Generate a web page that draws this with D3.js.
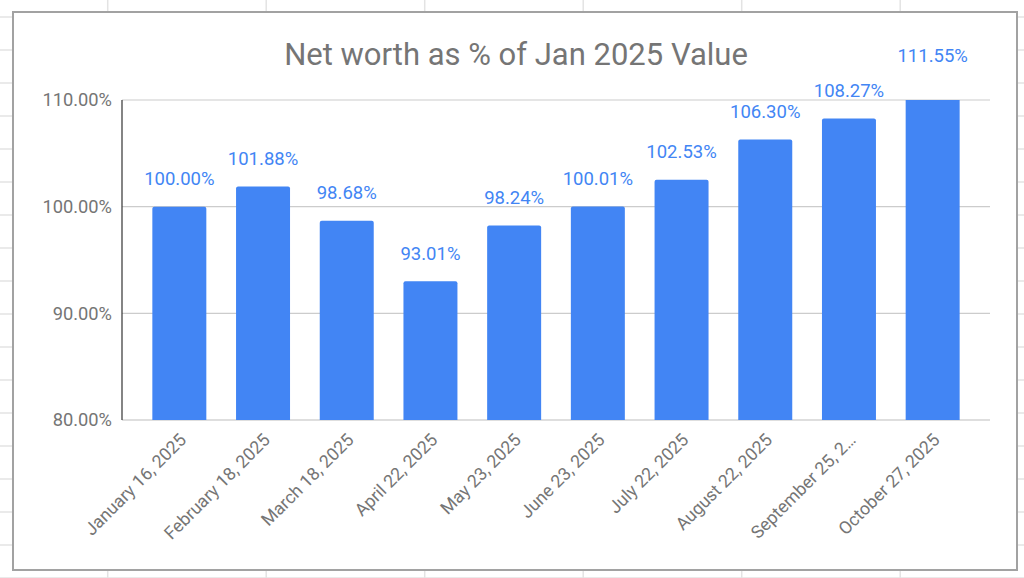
<!DOCTYPE html>
<html>
<head>
<meta charset="utf-8">
<script src="https://cdn.jsdelivr.net/npm/d3@7"></script>
<style>
  html, body { margin: 0; padding: 0; background: #fff; }
  svg { display: block; font-family: Roboto, "Noto Sans", sans-serif; }
</style>
</head>
<body>
<svg id="chart" width="1024" height="578"></svg>
<script>
const categories = ["January 16, 2025", "February 18, 2025", "March 18, 2025", "April 22, 2025", "May 23, 2025",
  "June 23, 2025", "July 22, 2025", "August 22, 2025", "September 25, 2025", "October 27, 2025"];
const values = [100.00, 101.88, 98.68, 93.01, 98.24, 100.01, 102.53, 106.30, 108.27, 111.55];
const yTicks = [80, 90, 100, 110];
const title = "Net worth as % of Jan 2025 Value";

const W = 1024, H = 578;
const svg = d3.select("#chart");

// spreadsheet background grid
const gridG = svg.append("g");
const vx = d3.range(0, 7).map(i => 107.7 + i * 158.5);
const hy = d3.range(0, 18).map(i => 17 + i * 33);
gridG.selectAll("line.v").data(vx).join("line")
  .attr("x1", d => d).attr("x2", d => d).attr("y1", 0).attr("y2", H)
  .attr("stroke", "#e3e3e3").attr("stroke-width", 1.5);
gridG.selectAll("line.h").data(hy).join("line")
  .attr("x1", 0).attr("x2", W).attr("y1", d => d).attr("y2", d => d)
  .attr("stroke", "#e3e3e3").attr("stroke-width", 1.5);

// chart card
svg.append("rect").attr("x", 13).attr("y", 12).attr("width", 1004).attr("height", 558)
  .attr("fill", "#fff").attr("stroke", "#a2a2a2").attr("stroke-width", 2);

const plot = { left: 122, right: 990, top: 100, bottom: 420 };

const x = d3.scaleBand().domain(categories).range([plot.left, plot.right])
  .paddingInner(0.355).paddingOuter(0.3625);
const y = d3.scaleLinear().domain([80, 110]).range([plot.bottom, plot.top]);

// title
svg.append("text").attr("x", 516).attr("y", 65).attr("text-anchor", "middle")
  .attr("font-size", 31).attr("fill", "#757575").text(title);

// gridlines
svg.append("g").selectAll("line").data(yTicks).join("line")
  .attr("x1", plot.left).attr("x2", plot.right)
  .attr("y1", d => y(d)).attr("y2", d => y(d))
  .attr("stroke", d => d === 80 ? "#bdbdbd" : "#cccccc").attr("stroke-width", 1.2);

// y axis
const yAxis = svg.append("g").attr("transform", `translate(${plot.left},0)`)
  .call(d3.axisLeft(y).tickValues(yTicks).tickSize(0).tickPadding(10).tickFormat(d => d3.format(".2f")(d) + "%"));
yAxis.select(".domain").remove();
yAxis.selectAll("text").attr("font-size", 18.3).attr("fill", "#757575")
  .attr("font-family", "Roboto, sans-serif");

// clip for bars
svg.append("clipPath").attr("id", "plotclip").append("rect")
  .attr("x", plot.left).attr("y", plot.top).attr("width", plot.right - plot.left).attr("height", plot.bottom - plot.top);

svg.append("g").attr("clip-path", "url(#plotclip)").selectAll("rect").data(values).join("rect")
  .attr("x", (d, i) => x(categories[i]))
  .attr("width", x.bandwidth())
  .attr("y", d => y(d))
  .attr("height", d => plot.bottom - y(d) + 3)
  .attr("rx", 2)
  .attr("fill", "#4285f4");

// axis lines
svg.append("line").attr("x1", plot.left).attr("x2", plot.left)
  .attr("y1", y(110)).attr("y2", y(80)).attr("stroke", "#333").attr("stroke-width", 1.2);

// value labels
svg.append("g").selectAll("text").data(values).join("text")
  .attr("x", (d, i) => x(categories[i]) + x.bandwidth() / 2)
  .attr("y", d => y(d) - 21.5)
  .attr("text-anchor", "middle")
  .attr("font-size", 18.5)
  .attr("fill", "#4285f4")
  .text(d => d3.format(".2f")(d) + "%");

// x axis labels
const shortLabel = s => s.length > 17 ? s.slice(0, 15) + "…" : s;
const xAxis = svg.append("g").attr("transform", `translate(0,${plot.bottom})`)
  .call(d3.axisBottom(x).tickSize(0).tickFormat(shortLabel));
xAxis.select(".domain").remove();
xAxis.selectAll("text")
  .attr("font-size", 17.7).attr("fill", "#757575").attr("font-family", "Roboto, sans-serif")
  .attr("text-anchor", "end")
  .attr("dy", null).attr("y", 0).attr("x", 0)
  .attr("transform", "translate(8,21) rotate(-45)");
</script>
</body>
</html>
